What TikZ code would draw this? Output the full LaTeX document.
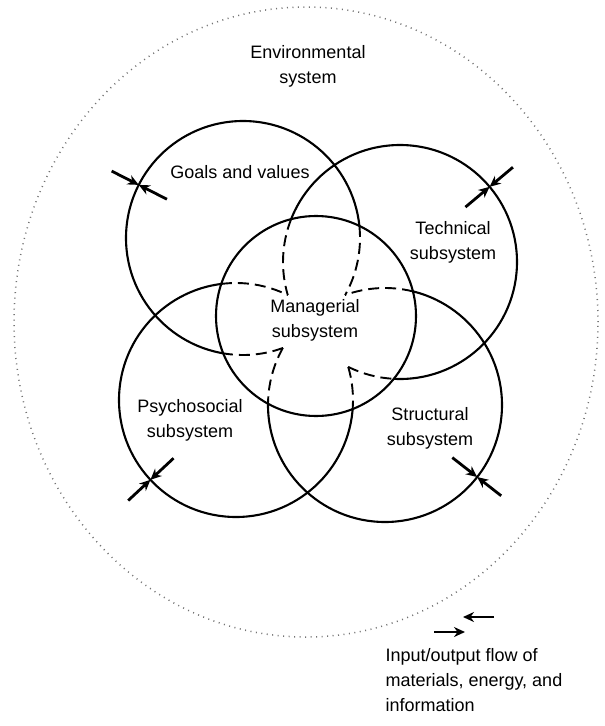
\documentclass[tikz,border=0pt]{standalone}
\usepackage{fontspec}
\setmainfont{Liberation Sans}
\usetikzlibrary{arrows.meta,calc}

\begin{document}
\begin{tikzpicture}[x=1pt,y=1pt,
  subsys/.style={draw,circle,line width=2.1pt,minimum size=234pt,inner sep=0pt,outer sep=0pt},
  hidden/.style={line width=1.9pt,dash pattern=on 11pt off 6pt},
  flow/.style={line width=2.8pt,-{Stealth[length=11pt,width=10pt]}},
  lbl/.style={align=center,font=\fontsize{18}{25}\selectfont}]
\useasboundingbox (0,0) rectangle (605,-726);
% environment
\draw[black!55,line width=1.5pt,dash pattern=on 1pt off 4.5pt] (306,-322) ellipse [x radius=292pt,y radius=315pt];
\node[lbl] (env) at (308,-66) {Environmental\\system};
% subsystems, not drawn inside the managerial one
\begin{scope}[even odd rule]
\clip (0,0) rectangle (605,-726) (316,-316) circle (100pt);
\node[subsys] (goals) at (243,-238) {};
\node[subsys] (tech) at (400,-262) {};
\node[subsys] (psych) at (236,-400) {};
\node[subsys] (struct) at (385,-405) {};
\end{scope}
\node[subsys,minimum size=200pt] (manag) at (316,-316) {};
\node[lbl] (goalslbl) at (240,-172) {Goals and values};
\node[lbl] (techlbl) at (453,-242) {Technical\\subsystem};
\node[lbl] (manlbl) at (315,-320) {Managerial\\subsystem};
\node[lbl] (psylbl) at (190,-420) {Psychosocial\\subsystem};
\node[lbl] (strlbl) at (430,-428) {Structural\\subsystem};
% hidden parts inside managerial
\draw[hidden] (tech.center) ++(158.5:117pt) arc[start angle=158.5,end angle=196.4,radius=117pt];
\draw[hidden] (tech.center) ++(243.7:117pt) arc[start angle=243.7,end angle=267,radius=117pt];
\draw[hidden] (psych.center) ++(97.4:117pt) arc[start angle=97.4,end angle=63.7,radius=117pt];
\draw[hidden] (psych.center) ++(16.4:117pt) arc[start angle=16.4,end angle=-4.4,radius=117pt];
\draw[hidden] (goals.center) ++(5.9:117pt) arc[start angle=5.9,end angle=-29.2,radius=117pt];
\draw[hidden] (goals.center) ++(-70:117pt) arc[start angle=-70,end angle=-99.9,radius=117pt];
\draw[hidden] (struct.center) ++(76.2:117pt) arc[start angle=76.2,end angle=110,radius=117pt];
\draw[hidden] (struct.center) ++(150.8:117pt) arc[start angle=150.8,end angle=179.5,radius=117pt];
% input/output flows
\coordinate (goals-o) at ($(goals.center)!1.26!(goals.153)$);
\coordinate (goals-i) at ($(goals.center)!0.73!(goals.153)$);
\draw[flow] (goals-o) -- (goals.153);
\draw[flow] (goals-i) -- (goals.153);
\coordinate (tech-o) at ($(tech.center)!1.26!(tech.40)$);
\coordinate (tech-i) at ($(tech.center)!0.73!(tech.40)$);
\draw[flow] (tech-o) -- (tech.40);
\draw[flow] (tech-i) -- (tech.40);
\coordinate (psych-o) at ($(psych.center)!1.26!(psych.223)$);
\coordinate (psych-i) at ($(psych.center)!0.73!(psych.223)$);
\draw[flow] (psych-o) -- (psych.223);
\draw[flow] (psych-i) -- (psych.223);
\coordinate (struct-o) at ($(struct.center)!1.26!(struct.-38)$);
\coordinate (struct-i) at ($(struct.center)!0.73!(struct.-38)$);
\draw[flow] (struct-o) -- (struct.-38);
\draw[flow] (struct-i) -- (struct.-38);
% key
\coordinate (key1a) at (494,-617);
\coordinate (key1b) at (463,-617);
\coordinate (key2a) at (434,-632);
\coordinate (key2b) at (465,-632);
\draw[flow] (key1a) -- (key1b);
\draw[flow] (key2a) -- (key2b);
\node[lbl,align=left,anchor=north west] (key) at (382,-645) {Input/output flow of\\materials, energy, and\\information};
\end{tikzpicture}
\end{document}
